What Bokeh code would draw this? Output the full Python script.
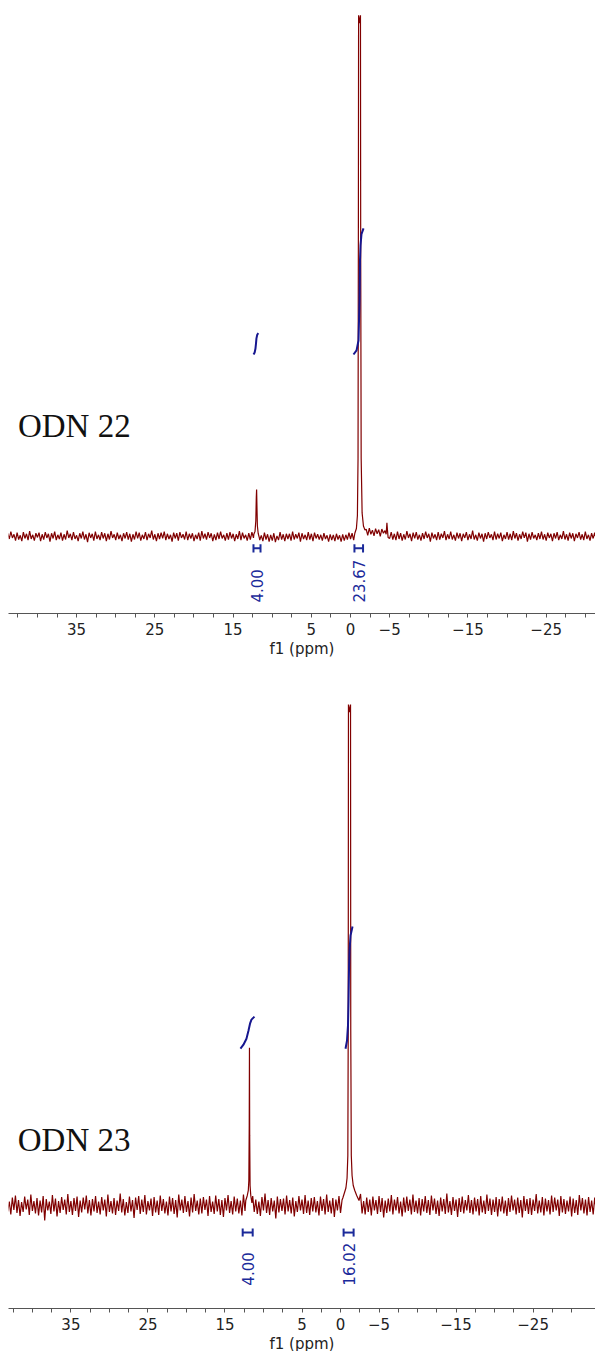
import numpy as np
from bokeh.plotting import figure
from bokeh.layouts import column
from bokeh.models import Range1d, FixedTicker, CustomJSTickFormatter, Title
from bokeh.core.properties import value
from bokeh.embed import file_html
from bokeh.resources import INLINE

# ---------------- data ----------------
tick_labels = [35, 25, 15, 5, 0, -5, -15, -25]
minor_tick_values = [42.5, 40, 37.5, 32.5, 30, 27.5, 22.5, 20, 17.5, 12.5, 10, 7.5,
                     2.5, -2.5, -7.5, -10, -12.5, -17.5, -20, -22.5, -27.5, -30]

titles = ["ODN 22", "ODN 23"]
x_label = "f1 (ppm)"

# baseline noise on a uniform ppm grid
noise_step = 0.2
top_noise_start = 43.8
top_noise = [
    0.6, -0.5, 0.9, -0.3, 0.4, -0.8, 0.7, -0.6, 0.2, -0.9, 0.8, -0.4, 0.5, -0.7, 1.0, -0.5, 0.3, -0.8, 0.6, -0.2,
    0.7, -0.9, 0.4, -0.6, 0.8, -0.3, 0.5, -1.0, 0.6, -0.4, 0.9, -0.7, 0.3, -0.5, 0.7, -0.8, 0.4, -0.6, 1.1, -0.3,
    0.5, -0.7, 0.8, -0.5, 0.2, -0.9, 0.6, -0.4, 0.9, -0.6, 0.4, -1.1, 0.7, -0.3, 0.5, -0.8, 0.9, -0.5, 0.3, -0.7,
    0.8, -0.4, 0.6, -0.9, 0.5, -0.6, 1.0, -0.3, 0.4, -0.7, 0.7, -0.5, 0.3, -0.9, 0.6, -0.4, 0.8, -0.6, 0.5, -1.0,
    0.4, -0.6, 0.9, -0.4, 0.7, -0.8, 0.3, -0.5, 0.8, -0.7, 0.5, -0.3, 1.1, -0.6, 0.4, -0.9, 0.6, -0.5, 0.7, -0.4,
    0.9, -0.7, 0.5, -0.5, 0.3, -1.0, 0.7, -0.4, 0.6, -0.8, 0.8, -0.3, 0.4, -0.6, 0.9, -0.7, 0.5, -0.4, 0.6, -0.9,
    0.3, -0.5, 0.7, -0.8, 1.0, -0.4, 0.5, -0.6, 0.8, -0.3, 0.6, -0.9, 0.4, -0.7, 0.7, -0.5, 0.9, -0.4, 0.3, -0.8,
    0.6, -0.6, 0.8, -0.4, 0.5, -0.9, 0.4, -0.5, 1.0, -0.7, 0.7, -0.4, 0.3, -0.8, 0.6, -0.6, 0.8, -0.3, 0.5, -1.0,
    0.5, -0.7, 0.2, -0.9, 0.7, -0.6, 0.4, -1.0, 0.3, -0.8, 0.6, -1.1, 0.1, -0.7, 0.8, -0.6, 0.4, -0.9, 0.5, -0.5,
    0.5, -0.8, 0.9, -0.6, 0.4, -0.4, 0.7, -1.0, 0.6, -0.5, 0.3, -0.7, 0.8, -0.6, 0.5, -0.9, 0.7, -0.4, 0.4, -0.6,
    0.3, -0.8, 0.6, -0.5, 0.2, -1.0, 0.4, -0.7, 0.3, -0.9, 0.5, -0.6, 0.2, -1.0, 0.4, -0.8, 0.3, -0.6, 0.7, -0.5,
    0.6, -0.7, 0.8, -0.4, 0.5, -0.9, 0.7, -0.5, 0.9, 1.4, 0.2, 1.6, 0.4, 1.2, 0.1, 1.5, 0.5, 1.3, 0.0, 1.4,
    0.6, 1.1, -0.2, 0.9, -0.4, 0.8, -0.6, 0.5, -0.7, 0.9, -0.5, 0.6, -0.8, 0.4, -0.6, 1.0, -0.3, 0.5, -0.9, 0.7,
    -0.4, 0.8, -0.6, 0.3, -0.8, 0.6, -0.5, 0.9, -0.3, 0.5, -1.0, 0.7, -0.4, 0.4, -0.7, 0.8, -0.6, 0.5, -0.3, 1.0,
    -0.7, 0.4, -0.5, 0.9, -0.6, 0.3, -0.8, 0.7, -0.4, 0.6, -0.9, 0.5, -0.3, 0.8, -0.7, 0.4, -0.5, 1.1, -0.6, 0.3,
    -0.8, 0.7, -0.4, 0.5, -1.0, 0.6, -0.5, 0.8, -0.3, 0.4, -0.7, 0.9, -0.6, 0.5, -0.4, 0.7, -0.9, 0.3, -0.5, 0.8,
    -0.6, 0.5, -0.7, 1.0, -0.4, 0.6, -0.8, 0.4, -0.5, 0.9, -0.3, 0.7, -1.0, 0.5, -0.6, 0.8, -0.4, 0.3, -0.7, 0.6,
    -0.5, 0.9, -0.6, 0.4, -0.8, 0.7, -0.3, 0.5, -0.9, 0.6, -0.4, 0.8, -0.7, 0.3, -0.5, 1.0, -0.6, 0.4, -0.8, 0.7,
    -0.4, 0.6, -0.9, 0.5, -0.3, 0.8, -0.6, 0.4, -0.7, 0.9, -0.5, 0.3, -0.8, 0.6, -0.4, 0.7, -0.6, 0.5, -0.9, 0.4,
]

bot_noise_start = 43.4
bot_noise = [
    1.4, -1.2, 0.8, -1.8, 1.6, -0.9, 2.0, -1.5, 1.1, -2.1, 0.7, -1.3, 1.8, -0.8, 1.2, -1.9, 2.2, -1.1, 0.9, -1.6,
    1.5, -2.0, 1.0, -1.4, 1.9, -3.0, 1.3, -1.0, 0.8, -1.7, 2.1, -1.2, 1.4, -2.2, 0.9, -1.5, 1.7, -0.9, 1.2, -1.8,
    2.3, -1.3, 0.9, -1.9, 1.5, -1.1, 1.8, -2.3, 1.0, -1.4, 1.6, -0.8, 2.0, -1.6, 1.1, -2.0, 1.3, -1.2, 1.9, -1.5,
    0.8, -1.8, 1.7, -1.0, 1.2, -2.2, 2.2, -1.3, 0.9, -1.6, 1.5, -1.9, 1.0, -1.1, 2.4, -1.4, 1.3, -2.0, 0.7, -1.5,
    1.8, -1.2, 1.1, -2.5, 1.6, -0.9, 1.9, -1.7, 1.2, -1.3, 2.1, -1.8, 0.9, -1.0, 1.4, -2.1, 1.7, -1.4, 1.0, -1.9,
    2.0, -1.1, 1.3, -1.6, 0.8, -2.0, 1.8, -1.2, 1.5, -1.7, 1.1, -2.4, 2.2, -1.0, 1.2, -1.5, 1.9, -1.3, 0.9, -2.2,
    1.6, -1.4, 2.3, -1.1, 1.0, -1.8, 1.4, -1.6, 1.7, -0.9, 1.2, -2.1, 1.9, -1.3, 0.8, -1.7, 2.0, -1.2, 1.3, -1.9,
    1.1, -2.3, 1.5, -1.0, 2.1, -1.5, 0.9, -1.8, 1.8, -1.2, 1.4, -1.6, 1.0, -2.0, 2.2, -1.1, 1.3, -1.4, 1.6, -2.2,
    1.9, -1.3, 1.2, -1.7, 0.8, -2.1, 1.7, -1.0, 2.4, -1.5, 1.1, -1.9, 1.5, -1.2, 1.0, -2.6, 1.8, -1.4, 1.3, -1.1,
    1.4, -1.8, 2.0, -1.2, 1.1, -1.6, 1.6, -2.2, 0.9, -1.3, 1.9, -1.0, 1.2, -1.7, 2.1, -1.5, 1.0, -1.9, 1.5, -1.2,
    1.7, -1.4, 0.9, -2.0, 1.8, -1.1, 1.3, -1.8, 2.2, -1.3, 1.0, -1.6, 1.5, -2.3, 1.2, -1.0, 1.9, -1.5, 1.1, -1.7,
    2.0, -1.2, 1.4, -1.9, 1.0, -1.4, 1.7, -2.1, 1.3, -1.1, 2.3, -1.6, 0.9, -1.8, 1.6, -1.3, 1.2, -2.0, 1.8, -1.0,
    1.1, -1.7, 1.9, -1.3, 1.5, -2.4, 1.0, -1.5, 1.4, -1.2, 2.1, -1.8, 1.2, -1.0, 1.7, -1.6, 0.8, -2.2, 1.6, -1.4,
    1.8, -1.1, 1.2, -1.8, 2.2, -1.3, 1.0, -1.6, 1.5, -2.0, 1.3, -1.2, 1.9, -1.5, 1.1, -1.9, 2.0, -1.0, 1.4, -1.7,
    1.0, -2.1, 1.6, -1.2, 1.3, -1.7, 2.4, -1.4, 0.9, -1.9, 1.7, -1.1, 1.2, -2.3, 1.5, -1.3, 1.8, -1.6, 1.1, -1.0,
    2.1, -1.5, 1.1, -1.8, 1.6, -1.2, 1.3, -2.0, 1.9, -1.4, 1.0, -1.7, 2.2, -1.1, 1.4, -1.9, 1.2, -1.3, 1.7, -2.2,
    1.3, -1.2, 1.8, -1.6, 1.0, -2.1, 1.5, -1.3, 2.0, -1.0, 1.2, -1.8, 1.6, -1.5, 1.1, -2.4, 1.9, -1.1, 1.3, -1.7,
    1.5, -1.9, 1.2, -1.1, 2.3, -1.6, 1.0, -1.4, 1.7, -2.0, 1.4, -1.2, 1.1, -1.8, 2.0, -1.3, 1.6, -1.0, 1.2, -2.1,
    1.9, -1.4, 1.3, -1.7, 1.0, -1.2, 1.8, -2.2, 1.4, -1.5, 1.1, -1.9, 2.1, -1.0, 1.5, -1.6, 1.2, -2.0, 1.7, -1.3,
    1.0, -1.8, 1.6, -1.1, 2.2, -1.5, 1.3, -1.9, 1.1, -1.4, 1.8, -1.2, 1.4, -2.1, 1.0, -1.6, 1.9, -1.3, 1.2, -1.7,
]

# peaks (ppm, intensity; tallest peak = 100)
top_peaks = [
    ([12.35, 12.2, 12.1, 12.04, 12.0, 11.96, 11.9, 11.8, 11.65],
     [0.4, 1.0, 3.0, 7.5, 9.0, 6.0, 2.0, 0.6, -0.3]),
    ([-0.55, -0.75, -0.88, -0.96, -1.0, -1.03, -1.15, -1.27, -1.3, -1.36, -1.48, -1.65, -1.85],
     [0.6, 1.5, 4.0, 15.0, 55.0, 100.0, 98.5, 100.0, 55.0, 15.0, 4.5, 2.0, 1.2]),
    ([-4.55, -4.65, -4.72, -4.8],
     [0.4, 2.6, 1.2, -0.2]),
]
bot_peaks = [
    ([12.3, 12.1, 11.97, 11.9, 11.85, 11.82, 11.79, 11.74, 11.65, 11.5],
     [1.0, 2.0, 3.0, 5.0, 16.0, 31.5, 14.0, 4.0, 2.0, 0.5]),
    ([-0.3, -0.5, -0.7, -0.85, -0.95, -1.0, -1.03, -1.17, -1.3, -1.33, -1.4, -1.5, -1.65, -1.85, -2.1, -2.4],
     [1.5, 2.5, 3.5, 5.5, 10.0, 35.0, 100.0, 98.5, 100.0, 35.0, 10.0, 6.0, 4.0, 3.0, 2.0, 1.0]),
]

# integral curves
top_integrals = [
    ([12.39, 12.25, 12.15, 12.08, 12.02, 11.92, 11.78], [34.9, 35.3, 36.0, 37.0, 38.0, 38.7, 39.0]),
    ([-0.38, -0.77, -1.02, -1.15, -1.21, -1.28, -1.40, -1.66], [34.9, 35.7, 37.6, 45.3, 53.0, 55.9, 58.0, 59.1]),
]
bot_integrals = [
    ([12.99, 12.60, 12.21, 11.95, 11.75, 11.56, 11.17], [31.3, 32.1, 33.3, 34.9, 36.3, 37.1, 37.7]),
    ([-0.65, -0.84, -0.97, -1.04, -1.10, -1.17, -1.30, -1.56], [31.3, 32.9, 35.9, 40.9, 46.9, 50.9, 53.9, 55.7]),
]
top_int_labels = ["4.00", "23.67"]
top_int_ranges = [(12.4, 11.5), (-0.5, -1.6)]
bot_int_labels = ["4.00", "16.02"]
bot_int_ranges = [(12.7, 11.4), (-0.4, -1.7)]

# ---------------- styles / layout ----------------
RED = "#800000"
BLUE = "#16168f"
LBLUE = "#1b2a9a"
SANS = "DejaVu Sans"


def build_spectrum(start, step, noise, peaks):
    grid = [start - step * i for i in range(len(noise))]
    windows = [(min(px), max(px)) for px, _ in peaks]
    pts = [(x, y) for x, y in zip(grid, noise)
           if not any(lo - 0.02 <= x <= hi + 0.02 for lo, hi in windows)]
    for px, py in peaks:
        pts += list(zip(px, py))
    pts.sort(key=lambda t: -t[0])
    return [p[0] for p in pts], [p[1] for p in pts]


def make_panel(xr, yr, height, top_border, noise_start, noise, peaks, integrals,
               int_labels, int_ranges, bracket_y, bracket_h, label_y, title, title_xy):
    p = figure(width=595, height=height, x_range=Range1d(*xr), y_range=Range1d(*yr),
               output_backend="svg", toolbar_location=None, tools="",
               y_axis_location=None, min_border_left=8, min_border_right=0,
               min_border_top=top_border, min_border_bottom=50)
    p.outline_line_color = None
    p.xgrid.visible = False
    p.ygrid.visible = False
    p.background_fill_color = "white"
    p.border_fill_color = "white"

    ax = p.xaxis[0]
    ax.ticker = FixedTicker(ticks=tick_labels, minor_ticks=minor_tick_values)
    ax.formatter = CustomJSTickFormatter(
        code="return tick < 0 ? '\u2212' + (-tick) : '' + tick;")
    ax.major_label_text_font = SANS
    ax.major_label_text_font_size = "15px"
    ax.major_label_text_color = "#222222"
    ax.axis_line_color = "#555555"
    ax.major_tick_line_color = "#555555"
    ax.minor_tick_line_color = "#555555"
    ax.major_tick_in = 0
    ax.major_tick_out = 4
    ax.minor_tick_in = 0
    ax.minor_tick_out = 4
    ax.major_label_standoff = 5

    p.add_layout(Title(text=x_label, align="center", offset=34, standoff=0,
                       text_font=SANS, text_font_size="15px", text_font_style="normal",
                       text_color="#222222"), "below")

    sx, sy = build_spectrum(noise_start, noise_step, noise, peaks)
    p.line(sx, sy, line_color=RED, line_width=1.2)

    for ix, iy in integrals:
        p.line(ix, iy, line_color=BLUE, line_width=2)

    for (hi, lo), lab in zip(int_ranges, int_labels):
        p.segment(x0=[hi, hi, lo], y0=[bracket_y, bracket_y - bracket_h, bracket_y - bracket_h],
                  x1=[lo, hi, lo], y1=[bracket_y, bracket_y + bracket_h, bracket_y + bracket_h],
                  line_color=LBLUE, line_width=2)
        p.text(x=[(hi + lo) / 2], y=[label_y], text=[lab], angle=np.pi / 2,
               text_align="left", text_baseline="middle",
               text_font=value(SANS), text_font_size="15px", text_color=LBLUE)

    p.text(x=[title_xy[0]], y=[title_xy[1]], text=[title],
           text_font=value("Liberation Serif"), text_font_size="33px",
           text_align="left", text_baseline="middle", text_color="#111111")
    return p


p1 = make_panel((43.7, -31.3), (-14.8, 101.3), 663, 8, top_noise_start, top_noise,
                top_peaks, top_integrals, top_int_labels, top_int_ranges,
                -2.3, 0.8, -12.7, titles[0], (42.5, 21.1))
p2 = make_panel((43.1, -33.1), (-20.56, 108.2), 695, 0, bot_noise_start, bot_noise,
                bot_peaks, bot_integrals, bot_int_labels, bot_int_ranges,
                -5.4, 0.8, -16.0, titles[1], (41.9, 13.0))

layout = column(p1, p2, spacing=0)
open("out.html", "w").write(file_html(layout, INLINE))
